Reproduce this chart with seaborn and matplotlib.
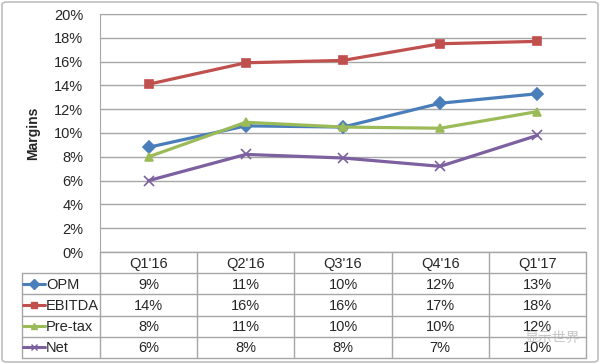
import pandas as pd
import seaborn as sns
import matplotlib.pyplot as plt
from matplotlib.patches import FancyBboxPatch
from matplotlib.lines import Line2D

# 분기별 마진 데이터 (%)
quarters = ["Q1'16", "Q2'16", "Q3'16", "Q4'16", "Q1'17"]
opm = [8.8, 10.6, 10.5, 12.5, 13.3]
ebitda = [14.1, 15.9, 16.1, 17.5, 17.7]
pretax = [8.0, 10.9, 10.5, 10.4, 11.8]
net = [6.0, 8.2, 7.9, 7.2, 9.8]
series_names = ['OPM', 'EBITDA', 'Pre-tax', 'Net']
table_labels = {
    'OPM': ['9%', '11%', '10%', '12%', '13%'],
    'EBITDA': ['14%', '16%', '16%', '17%', '18%'],
    'Pre-tax': ['8%', '11%', '10%', '10%', '12%'],
    'Net': ['6%', '8%', '8%', '7%', '10%'],
}
y_ticks = list(range(0, 21, 2))

colors = {'OPM': '#4a7ebb', 'EBITDA': '#c0504d', 'Pre-tax': '#9bbb59', 'Net': '#7d60a0'}
markers = {'OPM': 'D', 'EBITDA': 's', 'Pre-tax': '^', 'Net': 'x'}

sns.set_style('white')
plt.rcParams['font.family'] = ['Liberation Sans', 'Noto Sans CJK SC', 'DejaVu Sans']

W, H = 600, 364
fig = plt.figure(figsize=(6, 3.64), dpi=100)

# 바깥 테두리
fig.patches.append(FancyBboxPatch((2 / W, 2 / H), 596 / W, 360 / H,
                                  boxstyle='round,pad=0,rounding_size=0.008',
                                  transform=fig.transFigure, fill=False,
                                  edgecolor='#bfbfbf', linewidth=1.2))

ax = fig.add_axes([100 / W, (H - 252) / H, 486 / W, 238 / H])
for name, vals in zip(series_names, [opm, ebitda, pretax, net]):
    sns.lineplot(x=list(range(len(quarters))), y=vals, color=colors[name],
                 marker=markers[name], linewidth=2.3,
                 markersize=7 if name == 'Net' else 6,
                 markeredgewidth=1.2, markeredgecolor=colors[name], ax=ax)
ax.set_xlim(-0.5, 4.5)
ax.set_ylim(0, 20)
ax.set_yticks(y_ticks)
ax.set_yticklabels([f'{t}%' for t in y_ticks], fontsize=10.5)
ax.set_xticks([])
ax.set_xlabel('')
ax.set_ylabel('Margins', fontsize=10, fontweight='bold', labelpad=10)
ax.grid(axis='y', color='#a6a6a6', linewidth=1)
ax.set_axisbelow(True)
for s in ['left', 'top']:
    ax.spines[s].set_color('#a6a6a6')
ax.spines['right'].set_visible(False)
ax.spines['bottom'].set_visible(False)
ax.tick_params(axis='y', length=0, pad=12)

# 하단 데이터 테이블
label_w = 78 / 97.2
tab = fig.add_axes([22 / W, (H - 358) / H, 564 / W, 106 / H])
tab.set_xlim(-0.5 - label_w, 4.5)
tab.set_ylim(5, 0)
tab.axis('off')
lc = '#a6a6a6'
left = -0.5 - label_w
tab.plot([-0.5, 4.5], [0, 0], color=lc, lw=1, clip_on=False)
for r in range(1, 6):
    tab.plot([left, 4.5], [r, r], color=lc, lw=1, clip_on=False)
tab.plot([left, left], [1, 5], color=lc, lw=1, clip_on=False)
for c in range(6):
    tab.plot([c - 0.5, c - 0.5], [0, 5], color=lc, lw=1, clip_on=False)
for i, q in enumerate(quarters):
    tab.text(i, 0.55, q, ha='center', va='center', fontsize=10.5)
for r, name in enumerate(series_names, start=1):
    k0, k1 = left + 0.01, left + 0.235
    tab.add_line(Line2D([k0, k1], [r + 0.5, r + 0.5], color=colors[name], lw=2.2))
    tab.plot([(k0 + k1) / 2], [r + 0.5], marker=markers[name], color=colors[name],
             markersize=5, markeredgewidth=1.0)
    tab.text(k1 + 0.01, r + 0.55, name, ha='left', va='center', fontsize=10.5)
    for i, lab in enumerate(table_labels[name]):
        tab.text(i, r + 0.55, lab, ha='center', va='center', fontsize=10.5)

# 워터마크
fig.text(552 / W, (H - 338) / H, '显示世界', fontsize=10, color='#b0b0b0',
         ha='center', va='center', alpha=0.7)

fig.savefig('out.png', dpi=100)
